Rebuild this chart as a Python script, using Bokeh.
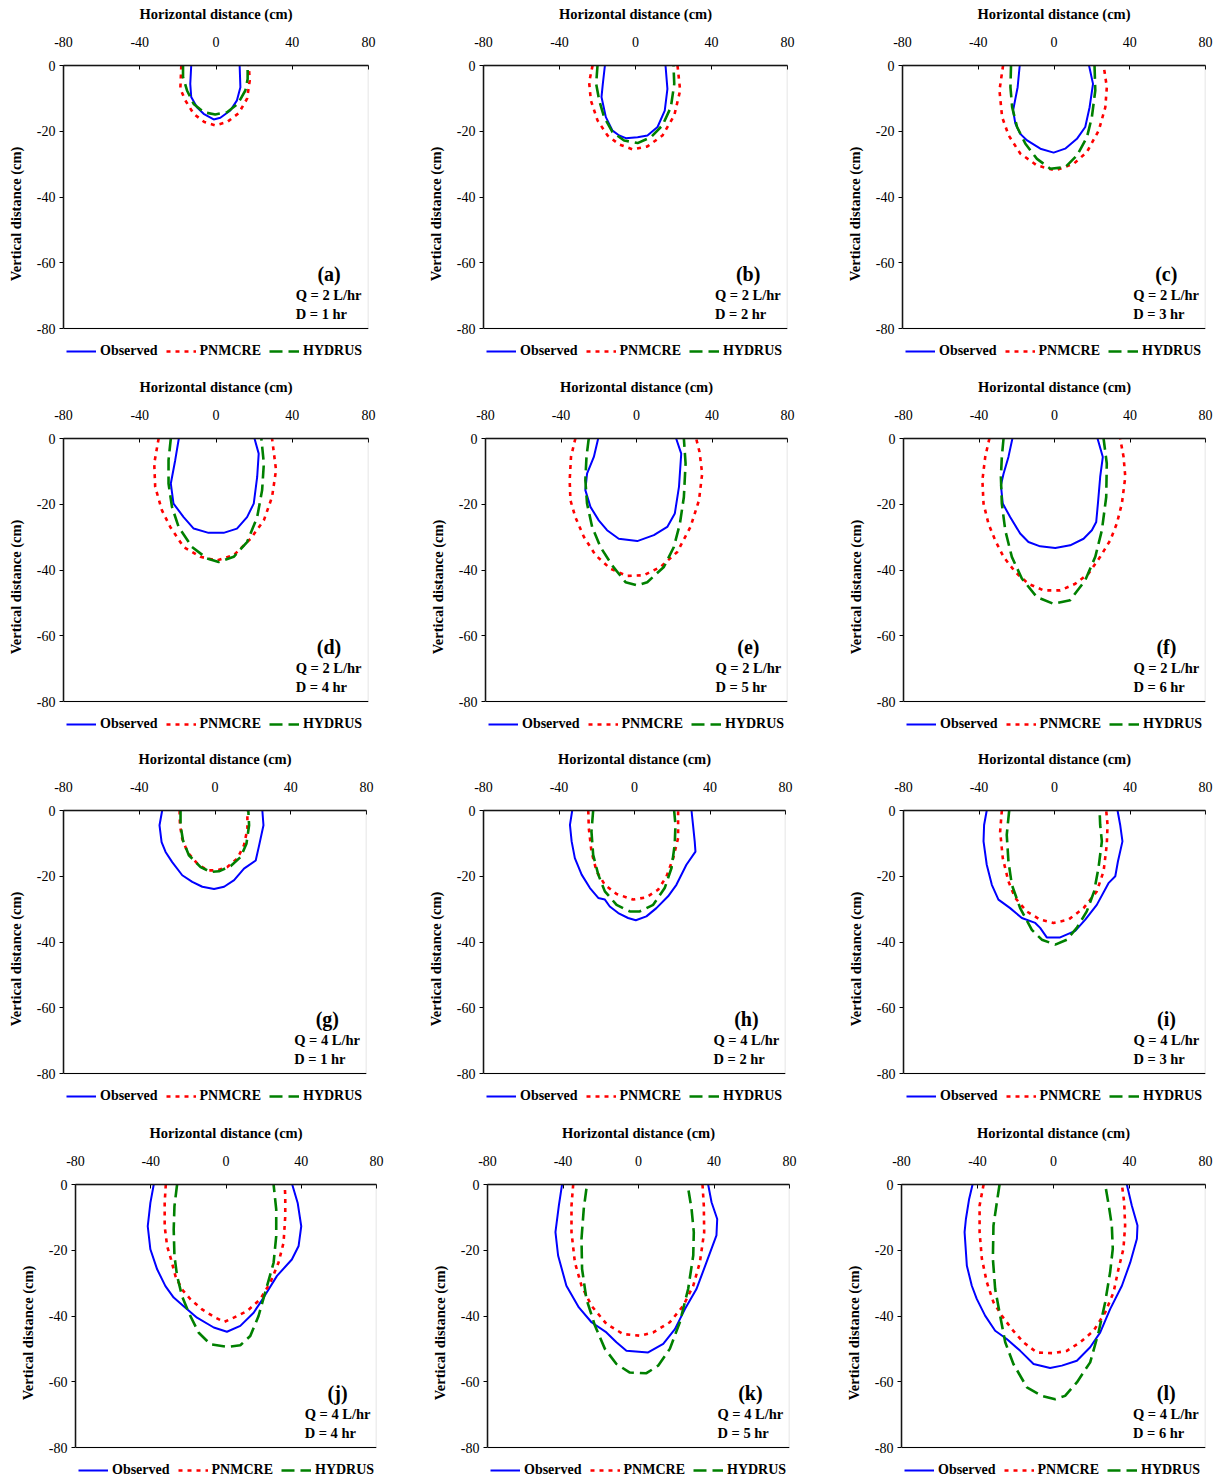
from bokeh.plotting import figure
from bokeh.layouts import column, row
from bokeh.models import Legend, LegendItem, Label, FixedTicker, Range1d, Span, BoxAnnotation
from bokeh.embed import file_html
from bokeh.resources import INLINE

# ---------------- data ----------------
x_ticks = [-80, -40, 0, 40, 80]
y_ticks = [-80, -60, -40, -20, 0]
series_names = ["Observed", "PNMCRE", "HYDRUS"]
panel_tags = ["(a)", "(b)", "(c)", "(d)", "(e)", "(f)", "(g)", "(h)", "(i)", "(j)", "(k)", "(l)"]
Q_values = [2, 2, 2, 2, 2, 2, 4, 4, 4, 4, 4, 4]
D_values = [1, 2, 3, 4, 5, 6, 1, 2, 3, 4, 5, 6]

a_obs_x = [-13.0, -13.5, -13.0, -10.0, -6.5, -1.2, 2.3, 7.5, 11.0, 12.8, 12.4]
a_obs_y = [0, -5.6, -9.6, -12.7, -14.7, -16.4, -15.9, -13.7, -10.6, -6.6, 0]
a_pn_x = [-18.2, -18.7, -16.1, -11.7, -6.1, -0.4, 5.8, 11.9, 16.3, 17.7, 17.2]
a_pn_y = [0, -7.1, -10.6, -14.7, -17.2, -18.2, -17.2, -14.5, -10.1, -4.6, 0]
a_hy_x = [-17.3, -17.3, -15.2, -11.7, -6.5, -0.4, 5.8, 11.4, 15.4, 16.6, 16.6]
a_hy_y = [0, -3.5, -7.6, -11.7, -14.2, -14.9, -14.2, -11.7, -7.6, -4.1, 0]

b_obs_x = [-16.1, -17.2, -17.9, -15.6, -12.1, -8.6, -5.1, 1.1, 6.3, 11.6, 15.4, 16.8, 15.8]
b_obs_y = [0, -5.6, -9.6, -15.7, -19.8, -21.3, -22.1, -21.8, -21.3, -18.7, -13.7, -7.1, 0]
b_pn_x = [-22.6, -24.4, -23.5, -20.0, -14.7, -8.6, -1.6, 6.3, 14.2, 20.4, 23.5, 22.1]
b_pn_y = [0, -5.1, -10.6, -16.7, -21.3, -24.0, -25.5, -24.6, -21.3, -15.2, -7.6, 0]
b_hy_x = [-20.0, -20.7, -19.1, -16.5, -12.1, -6.0, 1.1, 8.1, 14.2, 18.6, 20.4, 20.0]
b_hy_y = [0, -5.6, -10.6, -15.7, -20.3, -22.8, -23.6, -21.8, -18.2, -12.7, -5.6, 0]

c_obs_x = [-18.1, -19.2, -21.6, -20.4, -17.8, -14.2, -7.2, -0.2, 5.9, 12.1, 16.5, 18.8, 20.6, 18.5]
c_obs_y = [0, -6.6, -13.7, -17.7, -20.8, -22.8, -25.3, -26.5, -25.3, -22.3, -18.7, -12.7, -5.6, 0]
c_pn_x = [-26.9, -28.8, -27.4, -23.9, -17.8, -9.0, 0.7, 10.4, 17.4, 23.6, 27.1, 27.9, 26.2]
c_pn_y = [0, -7.6, -15.7, -21.3, -26.8, -30.4, -31.9, -29.9, -26.3, -19.8, -12.7, -6.6, 0]
c_hy_x = [-22.7, -23.0, -22.1, -19.5, -15.1, -9.0, -1.9, 6.0, 12.1, 17.4, 20.0, 21.8, 21.4]
c_hy_y = [0, -6.6, -12.7, -18.7, -23.8, -28.4, -31.4, -30.9, -27.4, -21.8, -15.7, -7.6, 0]

d_obs_x = [-19.5, -21.4, -23.7, -22.3, -17.0, -11.7, -3.9, 4.0, 11.0, 16.3, 19.8, 21.6, 22.4, 20.2]
d_obs_y = [0, -6.6, -13.7, -19.8, -23.9, -27.4, -28.7, -28.7, -27.4, -23.9, -19.8, -11.7, -4.6, 0]
d_pn_x = [-30.1, -32.4, -31.9, -28.4, -24.0, -17.0, -8.2, 0.5, 9.3, 18.1, 25.1, 29.4, 31.5, 29.4]
d_pn_y = [0, -7.6, -14.7, -21.8, -26.9, -33.0, -36.0, -37.1, -35.5, -30.5, -24.9, -17.8, -9.6, 0]
d_hy_x = [-23.7, -24.9, -24.9, -23.1, -19.6, -12.6, -4.7, 1.4, 9.3, 16.3, 21.6, 24.2, 25.1, 23.8]
d_hy_y = [0, -6.6, -13.7, -20.8, -26.9, -33.0, -36.5, -37.6, -36.0, -31.5, -23.9, -15.7, -7.6, 0]

e_obs_x = [-20.3, -22.6, -26.2, -27.1, -24.4, -20.0, -15.6, -9.4, 0.4, 9.2, 16.3, 20.3, 22.5, 23.7, 21.0]
e_obs_y = [0, -5.6, -10.7, -15.7, -20.8, -24.9, -27.9, -30.5, -31.2, -29.4, -26.9, -22.8, -14.7, -4.6, 0]
e_pn_x = [-32.4, -34.7, -35.4, -35.0, -32.4, -27.9, -21.7, -13.8, -5.0, 3.9, 12.7, 21.6, 28.6, 33.1, 34.8, 33.4, 31.6]
e_pn_y = [0, -5.6, -12.7, -18.8, -23.9, -29.9, -35.5, -39.6, -41.8, -41.6, -39.1, -34.5, -26.9, -18.8, -10.7, -4.1, 0]
e_hy_x = [-25.3, -26.5, -27.1, -26.2, -23.5, -19.1, -12.9, -5.8, 0.4, 5.7, 14.5, 19.8, 23.0, 25.1, 26.0, 25.1]
e_hy_y = [0, -5.6, -12.7, -19.8, -26.9, -33.0, -38.6, -43.7, -44.7, -43.7, -39.1, -33.0, -25.9, -17.8, -7.6, 0]

f_obs_x = [-22.3, -24.4, -27.0, -28.4, -27.4, -23.5, -18.2, -13.8, -7.6, 0.4, 8.3, 15.4, 19.8, 22.1, 23.0, 24.2, 25.6, 22.8]
f_obs_y = [0, -5.6, -10.7, -14.2, -19.8, -23.9, -28.9, -31.5, -32.8, -33.3, -32.5, -30.5, -27.9, -25.4, -19.8, -11.7, -5.6, 0]
f_pn_x = [-34.5, -36.7, -38.2, -37.6, -35.0, -31.4, -27.0, -20.8, -13.8, -5.8, 3.0, 11.0, 18.0, 24.2, 29.5, 33.0, 35.7, 37.5, 36.6, 34.8]
f_pn_y = [0, -5.6, -12.7, -19.8, -25.9, -31.0, -36.0, -40.6, -44.2, -46.2, -46.2, -44.2, -41.1, -36.0, -31.0, -25.9, -19.8, -11.7, -5.6, 0]
f_hy_x = [-27.0, -27.9, -28.4, -27.9, -26.1, -22.6, -17.3, -9.4, -0.5, 8.3, 16.3, 21.6, 25.1, 27.4, 27.7, 26.0]
f_hy_y = [0, -5.6, -11.7, -19.8, -27.9, -36.0, -42.6, -48.2, -50.3, -49.2, -43.1, -36.0, -27.9, -17.8, -7.6, 0]

g_obs_x = [-27.9, -29.3, -28.2, -26.1, -22.6, -17.3, -12.0, -6.7, -0.5, 4.8, 10.1, 15.3, 21.5, 23.3, 25.6, 25.0]
g_obs_y = [0, -4.5, -9.6, -12.6, -15.7, -19.7, -21.7, -23.2, -23.9, -23.2, -21.2, -17.7, -15.2, -10.6, -4.5, 0]
g_pn_x = [-18.7, -18.5, -17.3, -14.6, -9.3, -4.1, 1.2, 6.5, 11.8, 15.3, 17.1, 17.1]
g_pn_y = [0, -4.5, -8.6, -12.6, -16.2, -18.2, -18.2, -17.2, -14.6, -10.6, -5.6, 0]
g_hy_x = [-18.2, -18.2, -16.9, -13.8, -7.6, -2.3, 2.1, 8.3, 13.6, 16.6, 18.0, 17.6]
g_hy_y = [0, -4.5, -9.1, -13.6, -17.2, -18.7, -18.5, -16.9, -14.1, -10.1, -4.5, 0]

h_obs_x = [-33.0, -34.2, -33.3, -31.6, -28.0, -23.6, -19.2, -15.7, -13.1, -8.6, -3.4, 0.7, 6.3, 11.6, 17.8, 22.2, 27.5, 32.3, 31.9, 31.0, 30.2]
h_obs_y = [0, -4.4, -9.4, -14.5, -19.5, -23.6, -26.6, -27.1, -29.2, -31.2, -32.7, -33.4, -32.2, -29.7, -26.1, -22.6, -16.5, -12.5, -9.4, -4.4, 0]
h_pn_x = [-24.5, -24.2, -22.8, -20.1, -15.7, -9.5, -0.7, 6.3, 12.5, 16.9, 20.5, 23.1, 23.1]
h_pn_y = [0, -5.4, -12.5, -18.5, -22.6, -25.4, -27.1, -26.4, -24.1, -20.1, -14.5, -8.4, 0]
h_hy_x = [-21.9, -22.8, -21.9, -19.2, -15.7, -9.5, -2.5, 2.8, 9.9, 16.0, 19.6, 21.3, 21.7, 21.0]
h_hy_y = [0, -6.4, -13.5, -19.5, -24.6, -28.7, -30.7, -30.7, -28.7, -23.6, -17.5, -10.4, -4.4, 0]

i_obs_x = [-35.9, -37.3, -37.6, -35.9, -33.2, -29.7, -23.5, -17.3, -10.2, -7.6, -4.1, 3.0, 11.0, 16.3, 22.4, 28.6, 32.2, 33.6, 36.0, 34.8, 33.4]
i_obs_y = [0, -4.4, -9.4, -16.5, -22.6, -27.1, -29.7, -32.7, -34.2, -35.7, -38.6, -38.6, -36.6, -33.2, -28.7, -22.1, -20.0, -15.5, -9.4, -4.4, 0]
i_pn_x = [-27.9, -28.8, -27.4, -24.4, -20.8, -14.7, -7.6, -0.5, 7.4, 15.4, 22.4, 26.0, 27.7, 28.1, 27.4]
i_pn_y = [0, -6.4, -14.5, -21.6, -26.6, -30.7, -33.2, -34.2, -33.2, -29.7, -24.6, -18.5, -10.4, -4.4, 0]
i_hy_x = [-24.0, -25.3, -24.4, -22.6, -18.2, -12.0, -6.7, 0.4, 6.5, 11.8, 17.1, 21.0, 23.3, 25.1, 24.2, 23.9]
i_hy_y = [0, -7.4, -15.5, -22.6, -29.7, -36.3, -39.3, -40.8, -39.3, -35.7, -30.7, -24.6, -17.5, -9.4, -4.4, 0]

j_obs_x = [-38.4, -40.2, -41.6, -40.2, -36.6, -32.2, -27.8, -22.5, -15.4, -6.5, 0.5, 7.6, 14.7, 20.0, 27.1, 35.0, 38.6, 40.0, 38.1, 35.2]
j_obs_y = [0, -5.6, -12.7, -19.7, -25.8, -30.9, -34.4, -37.0, -40.5, -43.5, -44.8, -43.0, -39.0, -34.4, -27.8, -22.8, -18.7, -12.7, -5.6, 0]
j_pn_x = [-32.0, -32.6, -32.6, -31.3, -29.2, -26.9, -23.4, -18.9, -12.7, -5.7, -0.9, 4.1, 11.2, 18.2, 23.5, 27.9, 30.6, 31.5, 31.5, 31.2]
j_pn_y = [0, -5.6, -12.7, -18.7, -22.8, -27.8, -31.9, -34.9, -38.0, -40.5, -41.8, -40.5, -38.5, -34.9, -29.9, -23.8, -17.7, -9.6, -3.5, 0]
j_hy_x = [-26.0, -27.4, -27.8, -27.4, -26.0, -23.4, -19.8, -14.5, -8.3, 0.5, 7.6, 12.9, 17.3, 21.8, 25.3, 26.7, 26.7, 25.3]
j_hy_y = [0, -6.6, -13.7, -21.8, -27.8, -33.9, -39.0, -45.1, -48.6, -49.4, -48.9, -46.1, -40.0, -30.9, -23.8, -15.7, -7.6, 0]

k_obs_x = [-40.5, -42.2, -44.0, -42.6, -38.2, -31.6, -24.9, -17.0, -11.7, -6.4, 5.1, 13.1, 19.3, 24.6, 30.7, 36.0, 41.3, 41.7, 38.7, 36.9]
k_obs_y = [0, -6.4, -14.5, -21.6, -30.8, -37.4, -41.9, -45.0, -48.0, -50.6, -51.1, -48.5, -44.0, -37.9, -31.8, -23.7, -15.5, -10.5, -5.4, 0]
k_pn_x = [-34.6, -35.5, -35.5, -33.7, -30.2, -24.9, -17.0, -8.1, 0.7, 7.8, 16.6, 23.7, 29.0, 32.5, 34.8, 34.6, 33.9]
k_pn_y = [0, -6.4, -14.5, -23.7, -30.8, -36.9, -42.4, -45.5, -46.0, -45.0, -41.9, -36.9, -30.8, -23.7, -14.5, -6.4, 0]
k_hy_x = [-27.6, -29.0, -30.2, -29.9, -27.6, -23.1, -17.8, -11.7, -4.6, 4.2, 10.4, 16.6, 21.9, 26.3, 29.0, 29.3, 28.1, 26.0]
k_hy_y = [-1.3, -7.4, -16.5, -25.7, -34.8, -42.9, -50.0, -54.6, -57.2, -57.4, -55.1, -50.0, -41.9, -31.8, -21.6, -14.5, -7.4, 0]

l_obs_x = [-42.6, -44.4, -46.1, -46.8, -45.6, -43.0, -40.4, -36.0, -30.7, -24.6, -17.5, -10.5, -1.8, 4.4, 12.3, 19.3, 24.6, 29.8, 36.0, 40.4, 43.9, 44.2, 41.2, 38.6]
l_obs_y = [0, -4.4, -10.5, -14.5, -24.7, -30.8, -34.8, -39.9, -44.5, -47.0, -50.6, -54.6, -55.8, -55.1, -53.6, -49.5, -45.0, -37.9, -30.8, -23.7, -16.5, -12.5, -6.4, 0]
l_pn_x = [-36.8, -38.9, -38.9, -37.7, -35.1, -31.6, -27.2, -21.9, -15.8, -8.8, 0.0, 7.0, 14.0, 21.1, 27.2, 31.6, 34.2, 36.8, 37.7, 37.2, 36.0]
l_pn_y = [0, -6.4, -14.5, -22.6, -29.7, -35.8, -39.9, -44.0, -48.0, -51.1, -51.3, -50.6, -48.0, -44.5, -38.9, -32.8, -25.7, -19.6, -12.5, -5.4, 0]
l_hy_x = [-28.4, -29.8, -31.6, -31.9, -30.7, -28.1, -25.4, -21.1, -14.0, -6.1, 0.9, 6.1, 12.3, 19.3, 23.7, 27.2, 29.8, 31.2, 30.7, 29.1, 27.2]
l_hy_y = [0, -5.4, -12.5, -22.6, -31.8, -39.9, -48.0, -54.6, -61.7, -64.3, -65.3, -64.3, -60.2, -54.1, -45.0, -35.8, -26.7, -19.6, -12.5, -6.4, 0]

panel_series = [
    [(a_obs_x, a_obs_y), (a_pn_x, a_pn_y), (a_hy_x, a_hy_y)],
    [(b_obs_x, b_obs_y), (b_pn_x, b_pn_y), (b_hy_x, b_hy_y)],
    [(c_obs_x, c_obs_y), (c_pn_x, c_pn_y), (c_hy_x, c_hy_y)],
    [(d_obs_x, d_obs_y), (d_pn_x, d_pn_y), (d_hy_x, d_hy_y)],
    [(e_obs_x, e_obs_y), (e_pn_x, e_pn_y), (e_hy_x, e_hy_y)],
    [(f_obs_x, f_obs_y), (f_pn_x, f_pn_y), (f_hy_x, f_hy_y)],
    [(g_obs_x, g_obs_y), (g_pn_x, g_pn_y), (g_hy_x, g_hy_y)],
    [(h_obs_x, h_obs_y), (h_pn_x, h_pn_y), (h_hy_x, h_hy_y)],
    [(i_obs_x, i_obs_y), (i_pn_x, i_pn_y), (i_hy_x, i_hy_y)],
    [(j_obs_x, j_obs_y), (j_pn_x, j_pn_y), (j_hy_x, j_hy_y)],
    [(k_obs_x, k_obs_y), (k_pn_x, k_pn_y), (k_hy_x, k_hy_y)],
    [(l_obs_x, l_obs_y), (l_pn_x, l_pn_y), (l_hy_x, l_hy_y)],
]

# ---------------- styles / geometry ----------------
FONT = "Liberation Serif"
line_styles = [
    dict(color="#0000FF", width=2.0, dash="solid"),
    dict(color="#FF0000", width=2.6, dash="4 5"),
    dict(color="#008000", width=2.6, dash="13 6"),
]
col_widths = [414, 410, 396]
PLOT_H = 263          # pixel height of the -80..0 plotting area
EXT = 34              # extra pixels below the -80 line that hold the legend
FRAME_H = PLOT_H + EXT
Y_LOW = -80 - EXT * 80.0 / PLOT_H
row_borders = [(65, 11), (65, 10), (65, 12), (65, 0)]
lr_borders = [
    (63, 46), (69, 37), (78, 15),
    (63, 46), (71, 37), (79, 15),
    (63, 48), (69, 39), (79, 15),
    (75, 38), (73, 35), (77, 15),
]


def make_panel(k):
    r, c = divmod(k, 3)
    top, bottom = row_borders[r]
    left, right = lr_borders[k]
    p = figure(width=col_widths[c], height=top + FRAME_H + bottom,
               x_range=Range1d(-80, 80), y_range=Range1d(Y_LOW, 0),
               x_axis_location="above", output_backend="svg",
               toolbar_location=None, tools="",
               min_border_top=top, min_border_bottom=bottom,
               min_border_left=left, min_border_right=right)
    p.grid.visible = False
    p.background_fill_color = "white"
    p.border_fill_color = "white"
    p.outline_line_color = None

    # plot-area border: grey box, black bottom line
    p.add_layout(BoxAnnotation(left=-80, right=80, bottom=-80, top=0,
                               fill_alpha=0, line_color="#8c8c8c", line_width=1.5))
    p.add_layout(Span(location=-80, dimension="width", line_color="black", line_width=1.2))

    xa = p.xaxis[0]
    xa.ticker = FixedTicker(ticks=x_ticks)
    xa.major_label_overrides = {t: str(t) for t in x_ticks}
    xa.axis_label = "Horizontal distance (cm)"
    xa.major_tick_in = 4
    xa.major_tick_out = 0
    xa.minor_tick_in = 0
    xa.minor_tick_out = 0
    xa.major_label_standoff = 19
    xa.axis_label_standoff = 12

    ya = p.yaxis[0]
    ya.ticker = FixedTicker(ticks=y_ticks)
    ya.bounds = (-80, 0)
    ya.major_label_overrides = {t: str(t) for t in y_ticks}
    ya.axis_label = "Vertical distance (cm)"
    ya.major_tick_in = 0
    ya.major_tick_out = 4
    ya.minor_tick_in = 0
    ya.minor_tick_out = 0
    ya.major_label_standoff = 4
    ya.axis_label_standoff = 10

    for ax in (xa, ya):
        ax.axis_line_color = "black"
        ax.axis_line_width = 1.5
        ax.major_tick_line_color = "black"
        ax.major_tick_line_width = 1
        ax.major_label_text_font = FONT
        ax.major_label_text_font_size = "14px"
        ax.major_label_text_color = "black"
        ax.axis_label_text_font = FONT
        ax.axis_label_text_font_size = "14.5px"
        ax.axis_label_text_font_style = "bold"
        ax.axis_label_text_color = "black"

    items = []
    for name, (xs, ys), st in zip(series_names, panel_series[k], line_styles):
        rend = p.line(xs, ys, line_color=st["color"], line_width=st["width"],
                      line_dash=st["dash"])
        items.append(LegendItem(label=name, renderers=[rend]))

    legend = Legend(items=items, orientation="horizontal", location=(3, 3),
                    glyph_width=30, glyph_height=14, label_height=14,
                    label_standoff=4, spacing=8, padding=0, margin=0,
                    border_line_alpha=0, background_fill_alpha=0,
                    label_text_font=FONT, label_text_font_style="bold",
                    label_text_font_size="14px", label_text_color="black")
    p.add_layout(legend)

    p.add_layout(Label(x=59.3, y=-63.4, text=panel_tags[k], text_font=FONT,
                       text_font_style="bold", text_font_size="20px", text_color="black",
                       text_align="center", text_baseline="middle"))
    p.add_layout(Label(x=41.8, y=-69.7, text=f"Q = {Q_values[k]} L/hr", text_font=FONT,
                       text_font_style="bold", text_font_size="14.5px", text_color="black",
                       text_align="left", text_baseline="middle"))
    p.add_layout(Label(x=41.8, y=-75.5, text=f"D = {D_values[k]} hr", text_font=FONT,
                       text_font_style="bold", text_font_size="14.5px", text_color="black",
                       text_align="left", text_baseline="middle"))
    return p


panels = [make_panel(k) for k in range(12)]
layout = column(*[row(*panels[3 * r:3 * r + 3], spacing=0) for r in range(4)], spacing=0)

open("out.html", "w").write(file_html(layout, INLINE))
